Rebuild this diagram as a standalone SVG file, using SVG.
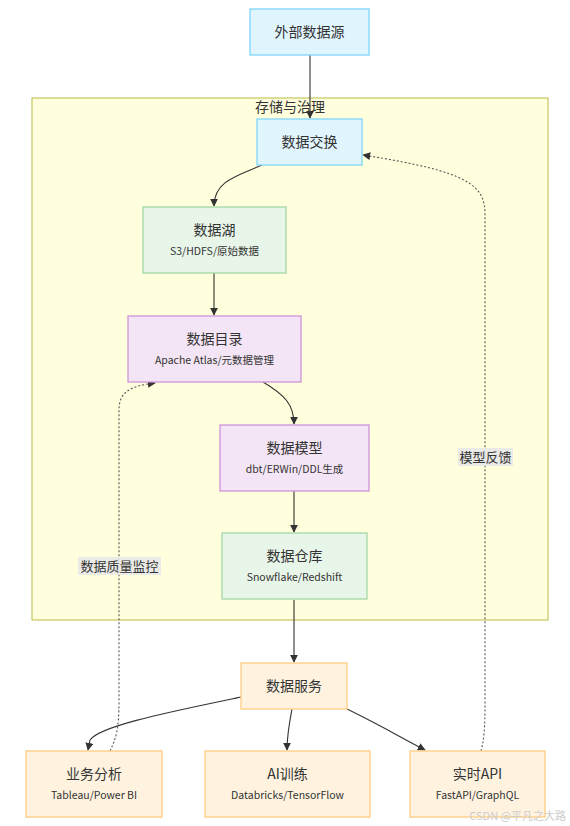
<svg xmlns="http://www.w3.org/2000/svg" width="570" height="826" viewBox="0 0 570 826">
<defs>
<marker id="arr" viewBox="0 0 10 10" refX="9" refY="5" markerWidth="8" markerHeight="8" markerUnits="userSpaceOnUse" orient="auto"><path d="M0,0L10,5L0,10z" fill="#333"/></marker>
<style>
.t{font-family:"Noto Sans CJK SC","Liberation Sans",sans-serif;fill:#333;text-anchor:middle}
.h{font-size:14px}
.s{font-size:10.5px}
.blue{fill:#e1f5fe;stroke:#81d4fa;stroke-width:1.3}
.green{fill:#e8f5e9;stroke:#a5d6a7;stroke-width:1.3}
.purple{fill:#f3e5f5;stroke:#ce93d8;stroke-width:1.3}
.orange{fill:#fff3e0;stroke:#ffcc80;stroke-width:1.3}
.e{fill:none;stroke:#333;stroke-width:1.1}
.d{fill:none;stroke:#555;stroke-width:1.1;stroke-dasharray:2 2}
.lbg{fill:#e8e8e8;opacity:0.9}
</style>
</defs>
<rect width="570" height="826" fill="#fff"/>
<g id="cluster">
<rect x="32" y="98" width="516" height="522" fill="#ffffde" stroke="#bbbb44" stroke-width="1"/>
<text class="t h" x="290" y="112">存储与治理</text>
</g>
<g id="edges">
<path class="e" d="M310,55L310,118" marker-end="url(#arr)"/>
<path class="e" d="M262,165C240,175 214,180 214,206" marker-end="url(#arr)"/>
<path class="e" d="M214,273L214,315" marker-end="url(#arr)"/>
<path class="e" d="M263,382C285,395 294,405 294,424" marker-end="url(#arr)"/>
<path class="e" d="M294,491L294,532" marker-end="url(#arr)"/>
<path class="e" d="M294,600L294,662" marker-end="url(#arr)"/>
<path class="e" d="M241,697C180,710 100,725 90,740L88,750" marker-end="url(#arr)"/>
<path class="e" d="M292,709C289,725 287,735 287,750" marker-end="url(#arr)"/>
<path class="e" d="M347,709C380,725 400,737 425,750" marker-end="url(#arr)"/>
<path class="d" d="M110,751C116,738 119,730 119,700L119,410C119,392 130,386 155,383" marker-end="url(#arr)"/>
<path class="d" d="M481,751C484,740 485,730 485,700L485,215C485,185 470,172 363,155" marker-end="url(#arr)"/>
<rect class="lbg" x="78" y="557" width="83" height="18"/>
<text class="t" x="119.5" y="571" font-size="13">数据质量监控</text>
<rect class="lbg" x="458" y="448" width="55" height="18"/>
<text class="t" x="485.5" y="462" font-size="13">模型反馈</text>
</g>
<g id="n-src"><rect class="blue" x="250" y="9" width="119" height="46"/><text class="t h" x="309.5" y="37">外部数据源</text></g>
<g id="n-exchange"><rect class="blue" x="257" y="119" width="105" height="46"/><text class="t h" x="309.5" y="147">数据交换</text></g>
<g id="n-lake"><rect class="green" x="143" y="207" width="143" height="66"/><text class="t h" x="214.5" y="235">数据湖</text><text class="t s" x="214.5" y="255">S3/HDFS/原始数据</text></g>
<g id="n-catalog"><rect class="purple" x="128" y="316" width="173" height="66"/><text class="t h" x="214.5" y="344">数据目录</text><text class="t s" x="214.5" y="364">Apache Atlas/元数据管理</text></g>
<g id="n-model"><rect class="purple" x="220" y="425" width="149" height="66"/><text class="t h" x="294.5" y="453">数据模型</text><text class="t s" x="294.5" y="473">dbt/ERWin/DDL生成</text></g>
<g id="n-dw"><rect class="green" x="222" y="533" width="145" height="66"/><text class="t h" x="294.5" y="561">数据仓库</text><text class="t s" x="294.5" y="581">Snowflake/Redshift</text></g>
<g id="n-service"><rect class="orange" x="241" y="663" width="106" height="46"/><text class="t h" x="294" y="691">数据服务</text></g>
<g id="n-bi"><rect class="orange" x="26" y="751" width="136" height="66"/><text class="t h" x="94" y="779">业务分析</text><text class="t s" x="94" y="799">Tableau/Power BI</text></g>
<g id="n-ai"><rect class="orange" x="205" y="751" width="165" height="66"/><text class="t h" x="287.5" y="779">AI训练</text><text class="t s" x="287.5" y="799">Databricks/TensorFlow</text></g>
<g id="n-api"><rect class="orange" x="410" y="751" width="135" height="66"/><text class="t h" x="477.5" y="779">实时API</text><text class="t s" x="477.5" y="799">FastAPI/GraphQL</text></g>
<text x="566" y="820" font-family="Noto Sans CJK SC, Liberation Sans, sans-serif" font-size="11" fill="#cccccc" text-anchor="end">CSDN @平凡之大路</text>
</svg>
